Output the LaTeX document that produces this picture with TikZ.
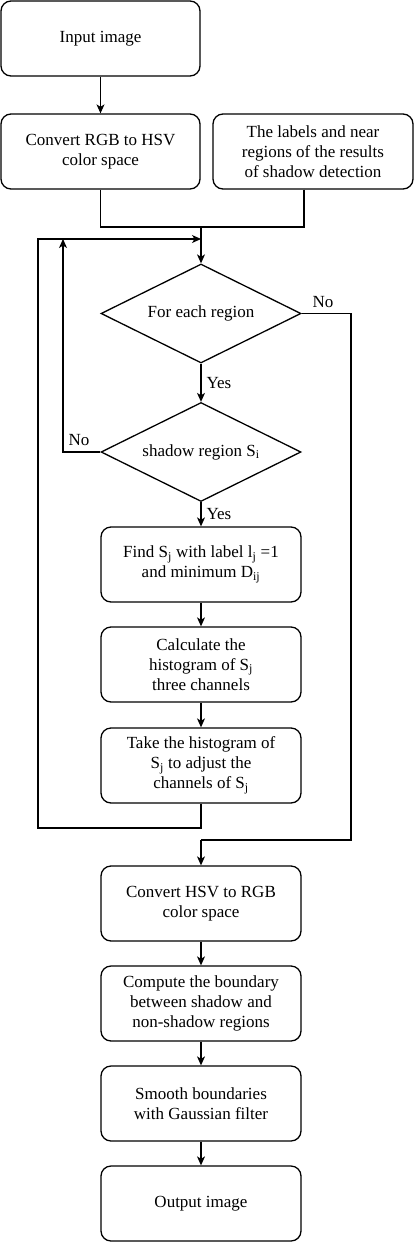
\documentclass[tikz,border=0pt]{standalone}
\usepackage{fontspec}
\setmainfont{Liberation Serif}
\usetikzlibrary{shapes.geometric,arrows.meta}
\begin{document}
\begin{tikzpicture}[x=1pt,y=-1pt,
  font=\fontsize{17}{20}\selectfont,
  box/.style={draw, rounded corners=10pt, line width=1.3pt, minimum width=200pt, minimum height=75pt, align=center, inner sep=0pt},
  dia/.style={draw, diamond, line width=1.3pt, minimum width=200pt, minimum height=99pt, inner sep=0pt},
  conn/.style={line width=1.1pt},
  arr/.style={conn, -{Stealth[length=9pt,width=8pt,inset=2.5pt]}},
  lbl/.style={inner sep=0pt}]
\useasboundingbox (0,0) rectangle (415,1242);
\node[box, minimum width=199pt] (in) at (100.5,38.5) {Input image};
\node[box, minimum width=199pt] (rgb) at (100.5,151.5) {Convert RGB to HSV\\color space};
\node[box] (lab) at (313,151.5) {The labels and near\\regions of the results\\of shadow detection};
\node[dia] (d1) at (201,313.5) {\makebox[0pt]{For each region}};
\node[dia] (d2) at (201,452) {\makebox[0pt]{shadow region S\textsubscript{i}}};
\node[box] (find) at (201,564.5) {Find S\textsubscript{j} with label l\textsubscript{j} =1\\and minimum D\textsubscript{ij}};
\node[box] (calc) at (201,664.5) {Calculate the\\histogram of S\textsubscript{j}\\three channels};
\node[box] (take) at (201,765.5) {Take the histogram of\\S\textsubscript{j} to adjust the\\channels of S\textsubscript{j}};
\node[box] (hsv) at (201,903.5) {Convert HSV to RGB\\color space};
\node[box] (comp) at (201,1003.5) {Compute the boundary\\between shadow and\\non-shadow regions};
\node[box] (smooth) at (201,1103.5) {Smooth boundaries\\with Gaussian filter};
\node[box] (out) at (201,1203.5) {Output image};
\coordinate (m) at (201,227);
\coordinate (j) at (201,239);
\coordinate (k) at (201,840);
\draw[arr] (in) -- (rgb);
\draw[conn] (rgb.south) |- (m);
\draw[conn] (lab.south -| 304,0) |- (m);
\draw[arr] (m) -- (d1.north);
\draw[arr] (d1.south) -- node[lbl, right=5pt] {Yes} (d2.north);
\draw[arr] (d2.south) -- node[lbl, right=5pt] {Yes} (find.north);
\draw[arr] (find) -- (calc);
\draw[arr] (calc) -- (take);
\draw[arr] (take.south) -- (201,828) -- (38,828) -- (38,239) -- (j);
\draw[arr] (d2.west) -- (63,452) -- (63,239);
\draw[conn] (d1.east) -- (351,313.5) -- (351,840) -- (k);
\draw[arr] (k) -- (hsv.north);
\draw[arr] (hsv) -- (comp);
\draw[arr] (comp) -- (smooth);
\draw[arr] (smooth) -- (out);
\node[lbl] (no1) at (323,302) {No};
\node[lbl] (no2) at (79,440) {No};
\end{tikzpicture}
\end{document}
